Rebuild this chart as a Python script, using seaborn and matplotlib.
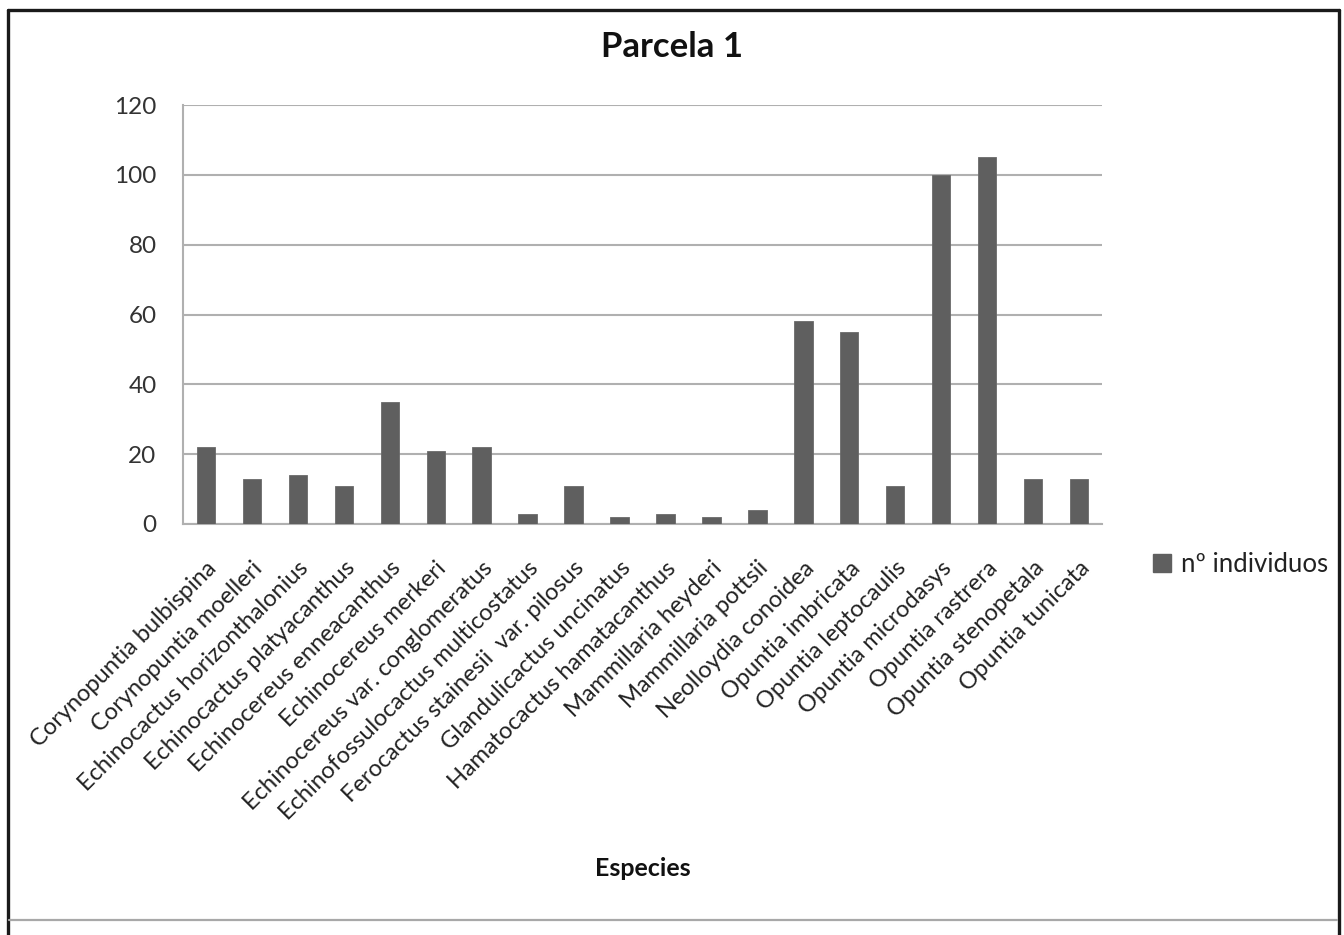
import numpy as np
import pandas as pd
import matplotlib
matplotlib.use("Agg")
import matplotlib.pyplot as plt
from matplotlib.lines import Line2D
from matplotlib.patches import Patch
import seaborn as sns

# Species counted in plot 1 and the number of individuals of each
especies = [
    "Corynopuntia bulbispina",
    "Corynopuntia moelleri",
    "Echinocactus horizonthalonius",
    "Echinocactus platyacanthus",
    "Echinocereus enneacanthus",
    "Echinocereus merkeri",
    "Echinocereus var. conglomeratus",
    "Echinofossulocactus multicostatus",
    "Ferocactus stainesii  var. pilosus",
    "Glandulicactus uncinatus",
    "Hamatocactus hamatacanthus",
    "Mammillaria heyderi",
    "Mammillaria pottsii",
    "Neolloydia conoidea",
    "Opuntia imbricata",
    "Opuntia leptocaulis",
    "Opuntia microdasys",
    "Opuntia rastrera",
    "Opuntia stenopetala",
    "Opuntia tunicata",
]
individuos = [22, 13, 14, 11, 35, 21, 22, 3, 11, 2, 3, 2, 4, 58, 55, 11, 100, 105, 13, 13]
y_ticks = [0, 20, 40, 60, 80, 100, 120]

titulo = "Parcela 1"
eje_x = "Especies"
serie = "nº individuos"

df = pd.DataFrame({"especie": especies, "n": individuos})

sns.set_theme(style="white")
plt.rcParams["font.family"] = ["Lato", "DejaVu Sans"]

W, H = 1344, 935
fig = plt.figure(figsize=(W / 100, H / 100), dpi=100)
ax = fig.add_axes([183 / W, 1 - 524 / H, (1102 - 183) / W, (524 - 105) / H])

bar_color = "#5f5f5f"
grid_color = "#b0b0b0"

sns.barplot(data=df, x="especie", y="n", color=bar_color, width=0.4,
            saturation=1, edgecolor="#6a6a6a", linewidth=0.6, ax=ax, zorder=3)

ax.set_xlim(-0.5, len(especies) - 0.5)
ax.set_ylim(0, 120)
ax.set_yticks(y_ticks)
ax.yaxis.grid(True, color=grid_color, linewidth=1.5, zorder=0)
ax.xaxis.grid(False)

for side in ("top", "right"):
    ax.spines[side].set_visible(False)
for side in ("left", "bottom"):
    ax.spines[side].set_color(grid_color)
    ax.spines[side].set_linewidth(1.5)

# category boundaries carry the x ticks
ax.set_xticks(np.arange(-0.5, len(especies), 1.0), minor=True)
ax.tick_params(axis="x", which="major", length=0, pad=24)
ax.tick_params(axis="x", which="minor", length=6, width=1.2, color=grid_color, direction="out")
ax.tick_params(axis="y", length=6, width=1.5, color=grid_color, direction="out",
               pad=13, labelsize=17.5, labelcolor="#333333")
ax.set_xticks(range(len(especies)))
ax.set_xticklabels(especies, rotation=45, ha="right", va="top", rotation_mode="anchor",
                   fontsize=17, color="#222222")
ax.set_xlabel("")
ax.set_ylabel("")

fig.text(672 / W, 1 - 47 / H, titulo, ha="center", va="center",
         fontsize=25, fontweight="bold", color="#111111")
fig.text(643 / W, 1 - 868 / H, eje_x, ha="center", va="center",
         fontsize=18, fontweight="bold", color="#111111")

fig.legend(handles=[Patch(facecolor=bar_color, edgecolor=bar_color, label=serie)],
           loc="center left", bbox_to_anchor=(1153 / W, 1 - 564 / H), frameon=False,
           borderaxespad=0, borderpad=0,
           handlelength=0.7, handleheight=0.7, handletextpad=0.4,
           prop={"size": 18.5}, labelcolor="#222222")

# outer chart frame
frame_kw = dict(transform=fig.transFigure, color="#1a1a1a", linewidth=2.4)
fig.add_artist(Line2D([7.5 / W, 7.5 / W], [0, 1 - 9.5 / H], **frame_kw))
fig.add_artist(Line2D([7.5 / W, 1338.5 / W], [1 - 9.5 / H, 1 - 9.5 / H], **frame_kw))
fig.add_artist(Line2D([1338.5 / W, 1338.5 / W], [0, 1 - 9.5 / H], **frame_kw))
fig.add_artist(Line2D([9 / W, 1337 / W], [1 - 920 / H, 1 - 920 / H],
                      transform=fig.transFigure, color="#a8a8a8", linewidth=1.6))

fig.savefig("out.png", dpi=100, facecolor="white")
